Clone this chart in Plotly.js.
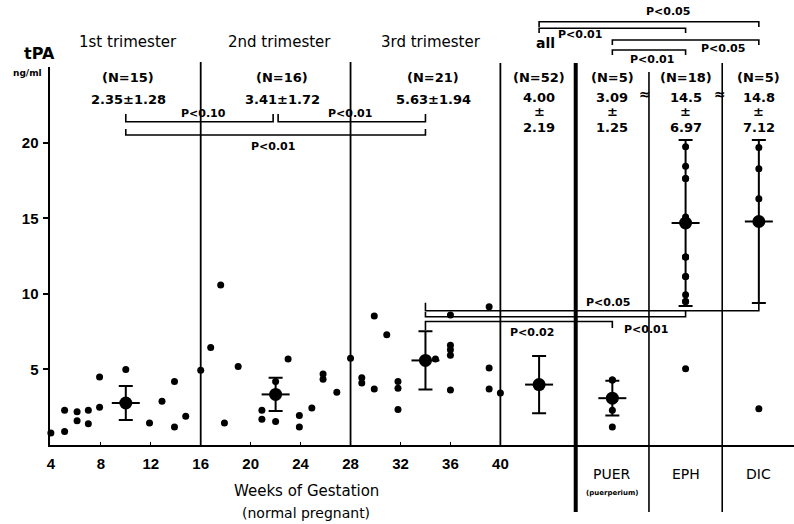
<!DOCTYPE html>
<html>
<head>
<meta charset="utf-8">
<script src="https://cdn.plot.ly/plotly-3.0.1.min.js"></script>
<style>html,body{margin:0;padding:0;background:#fff;}</style>
</head>
<body>
<div id="chart" style="width:794px;height:524px;"></div>
<script>
// ---------------- data ----------------
const weekTicks = [4, 8, 12, 16, 20, 24, 28, 32, 36, 40];

const tri1Weeks = [4, 5.1, 5.1, 6.1, 6.1, 7, 7, 7.9, 7.9, 10, 11.9, 12.9, 13.9, 13.9, 14.8];
const tri1Vals  = [0.8, 2.3, 0.9, 2.2, 1.6, 2.3, 1.4, 4.5, 2.5, 5.0, 1.45, 2.9, 4.2, 1.2, 1.9];

const tri2Weeks = [16, 16.8, 17.6, 17.9, 19.0, 20.9, 20.9, 22, 22, 23.0, 23.9, 23.9, 24.9, 25.8, 25.8, 26.9];
const tri2Vals  = [4.95, 6.45, 10.6, 1.45, 5.2, 2.3, 1.7, 4.2, 1.55, 5.7, 1.95, 1.2, 2.45, 4.7, 4.35, 3.5];

const tri3Weeks = [28, 28.9, 28.9, 29.9, 29.9, 30.9, 31.8, 31.8, 31.8, 34.8, 36, 36, 36, 36, 36, 39.1, 39.1, 39.1, 40];
const tri3Vals  = [5.75, 4.45, 4.1, 8.55, 3.7, 7.3, 4.2, 3.75, 2.35, 5.7, 8.6, 6.6, 6.3, 5.95, 3.65, 9.15, 5.1, 3.7, 3.45];

const triMeanWeeks = [10, 22, 34];
const triMeans     = [2.78, 3.35, 5.6];
const triSDs       = [1.12, 1.1, 1.93];

const categories = ['all', 'PUER', 'EPH', 'DIC'];
const catMeans   = [4.0, 3.1, 14.7, 14.8];
const catSDs     = [1.9, 1.15, 5.5, 5.4];

const puerVals = [4.3, 4.3, 3.1, 2.3, 1.2];
const ephVals  = [19.75, 18.45, 17.65, 17.65, 15.1, 12.45, 12.45, 12.45, 11.15, 11.15, 9.95, 9.5, 9.5, 5.05];
const dicVals  = [19.7, 18.3, 16.3, 2.4];

const triTitles = ['1st trimester', '2nd trimester', '3rd trimester'];
const triN      = ['(N=15)', '(N=16)', '(N=21)'];
const triStats  = ['2.35±1.28', '3.41±1.72', '5.63±1.94'];
const catN      = ['(N=52)', '(N=5)', '(N=18)', '(N=5)'];
const catMeanTx = ['4.00', '3.09', '14.5', '14.8'];
const catSDTx   = ['2.19', '1.25', '6.97', '7.12'];
const catLabels = ['', 'PUER', 'EPH', 'DIC'];

// ---------------- geometry helpers ----------------
const W = 794, H = 524, L = 50, R = 0, T = 67, B = 79;
const PW = W - L - R, PH = H - T - B;
const XR = [3.93, 40.05];
const D1 = (501 - L) / PW;
const X2R = [-0.52, 3.48];
function wx(w) { return (w - XR[0]) / (XR[1] - XR[0]) * D1; }
function cx(i) { return D1 + (i - X2R[0]) / (X2R[1] - X2R[0]) * (1 - D1); }
function px(p) { return (p - L) / PW; }
function py(p) { return (H - B - p) / PH; }

const FONT = 'DejaVu Sans';
const dot = {color: 'black', size: 7};

// ---------------- traces ----------------
const traces = [];
[[tri1Weeks, tri1Vals], [tri2Weeks, tri2Vals], [tri3Weeks, tri3Vals]].forEach(([xs, ys]) => {
  traces.push({type: 'scatter', mode: 'markers', x: xs, y: ys, xaxis: 'x', yaxis: 'y',
    marker: dot, cliponaxis: false, hoverinfo: 'skip'});
});
// trimester means
traces.push({type: 'scatter', mode: 'markers', x: triMeanWeeks, y: triMeans, xaxis: 'x', yaxis: 'y',
  marker: {color: 'black', size: 13},
  error_y: {type: 'data', array: triSDs, visible: true, color: 'black', thickness: 2, width: 7},
  cliponaxis: false, hoverinfo: 'skip'});
traces.push({type: 'scatter', mode: 'markers', x: triMeanWeeks, y: triMeans, xaxis: 'x', yaxis: 'y',
  marker: {symbol: 'line-ew', size: 20, line: {color: 'black', width: 2}},
  cliponaxis: false, hoverinfo: 'skip'});

// category points
[['PUER', puerVals], ['EPH', ephVals], ['DIC', dicVals]].forEach(([c, ys]) => {
  traces.push({type: 'scatter', mode: 'markers', x: ys.map(() => c), y: ys, xaxis: 'x2', yaxis: 'y',
    marker: dot, cliponaxis: false, hoverinfo: 'skip'});
});
traces.push({type: 'scatter', mode: 'markers', x: categories, y: catMeans, xaxis: 'x2', yaxis: 'y',
  marker: {color: 'black', size: 13},
  error_y: {type: 'data', array: catSDs, visible: true, color: 'black', thickness: 2, width: 7},
  cliponaxis: false, hoverinfo: 'skip'});
traces.push({type: 'scatter', mode: 'markers', x: categories, y: catMeans, xaxis: 'x2', yaxis: 'y',
  marker: {symbol: 'line-ew', size: 20, line: {color: 'black', width: 2}},
  cliponaxis: false, hoverinfo: 'skip'});

// ---------------- shapes ----------------
const shapes = [];
function vline(x, y0, y1, w) {
  shapes.push({type: 'line', xref: 'paper', yref: 'paper', x0: x, x1: x, y0: py(y0), y1: py(y1),
    line: {color: 'black', width: w}});
}
vline(wx(16), 62, 445, 1.8);
vline(wx(28), 62, 445, 1.8);
vline(wx(40), 63, 445, 1.8);
vline(cx(0.5), 63, 512, 4);
vline(cx(1.5), 72, 512, 1.6);
vline(cx(2.5), 63, 512, 1.6);

function bracket(x0, x1, yl, ye0, ye1) {
  shapes.push({type: 'path', xref: 'paper', yref: 'paper',
    path: `M${x0},${py(ye0)} L${x0},${py(yl)} L${x1},${py(yl)} L${x1},${py(ye1)}`,
    line: {color: 'black', width: 1.6}});
}
bracket(wx(10), wx(21.8), 121.7, 114, 114);
bracket(wx(22.2), wx(34), 121.7, 114, 114);
bracket(wx(10), wx(34), 135, 129, 129);
bracket(cx(0), cx(3), 21.7, 27, 27);
bracket(cx(0), cx(2), 28.3, 33, 33);
bracket(cx(1), cx(3), 40, 45, 45);
bracket(cx(1), cx(2), 50, 55, 55);
bracket(wx(34), cx(3), 310.7, 302.7, 302.7);
bracket(wx(34), cx(2), 316.7, 312, 310);
bracket(wx(34), cx(1), 321.5, 330, 328);

// ---------------- annotations ----------------
const ann = [];
function txt(text, x, y, size, opts) {
  ann.push(Object.assign({text: text, x: x, y: y, xref: 'paper', yref: 'paper', showarrow: false,
    xanchor: 'center', yanchor: 'middle',
    font: {family: FONT, size: size, color: 'black', weight: 'bold'}}, opts || {}));
}
const triTitleX = [128, 279, 431];
const triTextX = [128, 282, 433];
triTitles.forEach((t, i) => txt(t, px(triTitleX[i]), py(42), 15, {font: {family: FONT, size: 15, color: 'black'}}));
txt('all', px(545), py(43), 14, {font: {family: FONT, size: 14, color: 'black', weight: 'bold'}});
triN.forEach((t, i) => txt(t, px(triTextX[i]), py(77), 13));
triStats.forEach((t, i) => txt(t, px(triTextX[i]), py(99), 13));
categories.forEach((c, i) => {
  txt(catN[i], cx(i), py(77), 13);
  txt(catMeanTx[i], cx(i), py(97), 13);
  txt('±', cx(i), py(111), 13);
  txt(catSDTx[i], cx(i), py(127), 13);
  if (catLabels[i]) txt(catLabels[i], cx(i), py(474), 14, {font: {family: FONT, size: 14, color: 'black'}});
});
txt('(puerperium)', cx(1), py(493), 7);
txt('≈', px(645), py(94), 14);
txt('≈', px(720), py(94), 14);

const pLabels = [
  ['P<0.10', 203, 113], ['P<0.01', 350, 113], ['P<0.01', 273, 146],
  ['P<0.05', 668, 12], ['P<0.01', 580, 34], ['P<0.05', 723, 49], ['P<0.01', 652, 59],
  ['P<0.05', 608, 302], ['P<0.02', 532, 332], ['P<0.01', 646, 329]
];
pLabels.forEach(([t, x, y]) => txt(t, px(x), py(y), 11));

txt('tPA', px(39), py(53), 16, {font: {family: FONT, size: 16, color: 'black', weight: 'bold'}});
txt('ng/ml', px(27), py(73), 9);
txt('Weeks of Gestation', px(306), py(491), 15, {font: {family: FONT, size: 15, color: 'black'}});
txt('(normal pregnant)', px(306), py(513), 14, {font: {family: FONT, size: 14, color: 'black'}});

// ---------------- layout ----------------
const tickFont = {family: 'Liberation Sans', size: 15, color: 'black', weight: 'bold'};
const layout = {
  width: W, height: H,
  margin: {l: L, r: R, t: T, b: B, pad: 0},
  paper_bgcolor: 'white', plot_bgcolor: 'white',
  showlegend: false,
  xaxis: {domain: [0, D1], range: XR, tickvals: weekTicks, ticks: 'inside', ticklen: 3, tickwidth: 1,
    tickcolor: 'black', showline: true, linewidth: 2.2, linecolor: 'black', showgrid: false, zeroline: false,
    tickfont: tickFont, ticklabelstandoff: 4, anchor: 'y', fixedrange: true},
  xaxis2: {domain: [D1, 1], type: 'category', categoryorder: 'array', categoryarray: categories,
    range: X2R, showline: true, linewidth: 2.2, linecolor: 'black', showticklabels: false, ticks: '',
    showgrid: false, zeroline: false, anchor: 'y'},
  yaxis: {range: [0, 25.03], tickvals: [5, 10, 15, 20], ticks: 'outside', ticklen: 5, tickwidth: 2,
    tickcolor: 'black', showline: true, linewidth: 2.5, linecolor: 'black', showgrid: false, zeroline: false,
    tickfont: tickFont, ticklabelstandoff: 1},
  shapes: shapes,
  annotations: ann
};

Plotly.newPlot('chart', traces, layout, {displayModeBar: false, staticPlot: true});
</script>
</body>
</html>
